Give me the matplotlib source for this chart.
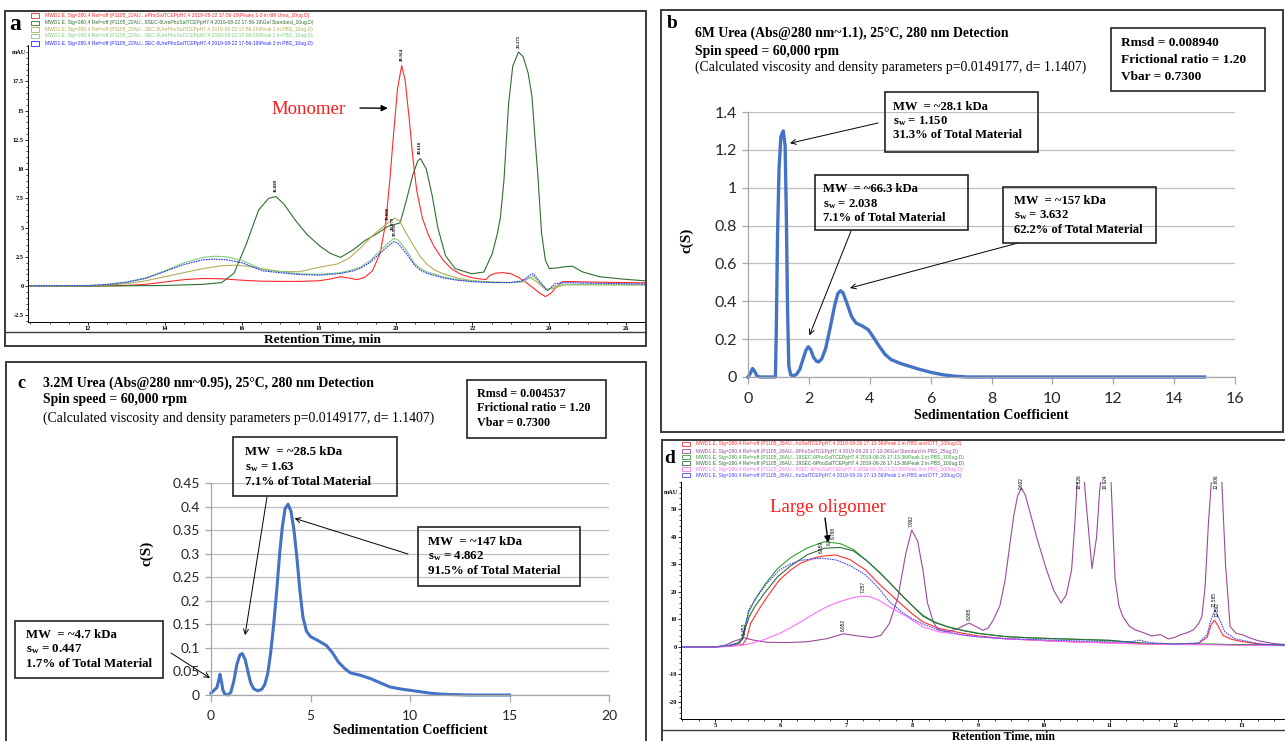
#!/usr/bin/env python3
# composite figure: two SEC chromatograms (a, d) and two c(S) distributions (b, c)

import matplotlib
matplotlib.use('Agg')
import matplotlib.pyplot as plt
from matplotlib.patches import Rectangle
from matplotlib.lines import Line2D
from matplotlib.ticker import MultipleLocator

plt.rcParams['mathtext.fontset'] = 'custom'
plt.rcParams['mathtext.rm'] = 'Liberation Serif:bold'
plt.rcParams['mathtext.it'] = 'Liberation Serif:italic:bold'

SERIF = 'Liberation Serif'
SANS = 'Liberation Sans'
XL = 'Lato'

# ---------------- data: panel a (retention time min, mAU) ----------------
a_red = [(10.44, 0.0), (12.0, 0.0), (13.0, 0.05), (13.5, 0.15), (14.0, 0.35), (14.5, 0.55),
         (15.0, 0.65), (15.5, 0.62), (16.0, 0.5), (16.5, 0.42), (17.0, 0.4), (17.5, 0.4),
         (18.0, 0.45), (18.3, 0.6), (18.57, 0.8), (18.8, 0.68), (19.0, 0.55), (19.2, 0.75),
         (19.4, 1.3), (19.6, 2.8), (19.75, 5.5), (19.85, 9.0), (19.95, 13.0), (20.05, 16.8),
         (20.16, 18.85), (20.25, 17.6), (20.35, 14.5), (20.45, 11.0), (20.55, 8.2), (20.7, 5.8),
         (20.85, 4.4), (21.0, 3.4), (21.24, 2.2), (21.45, 1.5), (21.7, 1.0), (22.0, 0.7),
         (22.35, 0.55), (22.45, 0.9), (22.6, 1.1), (22.8, 1.15), (23.0, 1.05), (23.2, 0.75),
         (23.4, 0.3), (23.6, -0.2), (23.75, -0.6), (23.9, -0.9), (24.05, -0.6), (24.2, 0.0),
         (24.35, 0.38), (24.6, 0.38), (25.0, 0.35), (25.5, 0.32), (26.0, 0.3), (26.5, 0.28)]
a_gel = [(10.44, 0.0), (12.0, 0.0), (14.0, 0.05), (15.0, 0.15), (15.48, 0.3), (15.8, 1.1),
         (16.12, 3.6), (16.44, 6.5), (16.7, 7.5), (16.89, 7.65), (17.1, 7.0), (17.4, 5.6),
         (17.7, 4.4), (18.04, 3.4), (18.3, 2.8), (18.57, 2.45), (18.9, 3.1), (19.21, 3.9),
         (19.53, 4.5), (19.8, 5.1), (20.12, 5.4), (20.28, 7.3), (20.45, 9.5), (20.58, 10.7),
         (20.65, 10.9), (20.8, 10.0), (20.95, 7.8), (21.1, 5.0), (21.3, 2.6), (21.55, 1.5),
         (21.98, 1.05), (22.3, 1.2), (22.52, 2.8), (22.65, 4.5), (22.73, 5.9), (22.82, 9.0),
         (22.94, 15.5), (23.05, 18.8), (23.2, 20.0), (23.32, 19.6), (23.45, 18.2), (23.55, 16.2),
         (23.62, 13.0), (23.7, 9.6), (23.8, 4.5), (23.9, 2.2), (24.0, 1.5), (24.2, 1.55),
         (24.4, 1.65), (24.6, 1.7), (24.86, 1.22), (25.3, 0.8), (26.0, 0.57), (26.5, 0.45)]
a_pk1 = [(10.44, 0.0), (12.0, 0.02), (12.5, 0.08), (13.0, 0.2), (13.5, 0.45), (14.0, 0.8),
         (14.5, 1.15), (15.0, 1.5), (15.5, 1.75), (15.8, 1.78), (16.1, 1.72), (16.5, 1.5),
         (17.0, 1.25), (17.5, 1.22), (18.0, 1.6), (18.5, 1.9), (18.8, 2.4), (19.1, 3.3),
         (19.4, 4.3), (19.65, 5.0), (19.85, 5.5), (19.98, 5.8), (20.1, 5.6), (20.28, 4.5),
         (20.49, 3.35), (20.65, 2.5), (20.81, 1.9), (21.0, 1.4), (21.24, 1.05), (21.6, 0.7),
         (22.0, 0.45), (22.5, 0.35), (23.0, 0.3), (23.3, 0.4), (23.5, 0.75), (23.7, 0.3),
         (23.9, -0.3), (24.1, -0.2), (24.4, 0.1), (25.0, 0.1), (26.0, 0.1), (26.5, 0.1)]
a_pk2 = [(10.44, 0.02), (12.0, 0.05), (12.5, 0.15), (13.0, 0.35), (13.5, 0.7), (14.0, 1.3),
         (14.5, 2.0), (15.0, 2.45), (15.3, 2.55), (15.6, 2.5), (16.0, 2.2), (16.55, 1.4),
         (17.19, 1.17), (17.5, 1.05), (18.04, 1.0), (18.57, 1.14), (18.9, 1.4), (19.1, 1.65),
         (19.35, 2.2), (19.53, 2.8), (19.8, 3.65), (19.96, 4.07), (20.08, 3.9), (20.28, 3.08),
         (20.49, 1.94), (20.65, 1.5), (20.81, 1.22), (21.24, 0.8), (21.6, 0.55), (21.98, 0.43),
         (22.5, 0.32), (23.0, 0.3), (23.3, 0.35), (23.5, 0.7), (23.58, 0.85), (23.75, 0.3),
         (23.95, -0.35), (24.15, 0.0), (24.4, 0.15), (25.0, 0.15), (26.0, 0.12), (26.5, 0.1)]
a_pk3 = [(10.44, 0.02), (12.0, 0.04), (12.5, 0.13), (13.0, 0.32), (13.5, 0.65), (14.0, 1.25),
         (14.5, 1.85), (15.0, 2.25), (15.3, 2.3), (15.6, 2.25), (16.0, 2.0), (16.55, 1.3),
         (17.19, 1.08), (17.5, 0.98), (18.04, 0.94), (18.57, 1.08), (18.9, 1.3), (19.1, 1.55),
         (19.35, 2.05), (19.53, 2.6), (19.8, 3.4), (19.96, 3.8), (20.08, 3.6), (20.28, 2.8),
         (20.49, 1.8), (20.65, 1.35), (20.81, 1.1), (21.24, 0.7), (21.6, 0.5), (21.98, 0.38),
         (22.5, 0.3), (23.0, 0.3), (23.3, 0.45), (23.5, 0.95), (23.58, 1.05), (23.75, 0.4),
         (23.95, -0.4), (24.15, 0.2), (24.4, 0.3), (25.0, 0.25), (26.0, 0.2), (26.5, 0.18)]
a_series = [a_red, a_gel, a_pk1, a_pk2, a_pk3]
a_colors = ['#ff2a2a', '#2f6e2f', '#b3ad5a', '#7fcf7f', '#2b2bff']
a_styles = ['-', '-', '-', '-', (0, (1.5, 0.8))]
a_legend = [
    r'MWD1 E, Sig=280,4 Ref=off (P1105_22AU...ePhoSalTCEPpH7.4 2019-08-22 17-56-19\Peaks 1-3 in 6M Urea_10ug.D)',
    r'MWD1 E, Sig=280,4 Ref=off (P1105_22AU...9SEC-6UrePhoSalTCEPpH7.4 2019-08-22 17-56-19\Gel Standard_10ug.D)',
    r'MWD1 E, Sig=280,4 Ref=off (P1105_22AU...SEC-6UrePhoSalTCEPpH7.4 2019-08-22 17-56-19\Peak 1 in PBS_10ug.D)',
    r'MWD1 E, Sig=280,4 Ref=off (P1105_22AU...SEC-6UrePhoSalTCEPpH7.4 2019-08-22 17-56-19\Peak 2 in PBS_10ug.D)',
    r'MWD1 E, Sig=280,4 Ref=off (P1105_22AU...SEC-6UrePhoSalTCEPpH7.4 2019-08-22 17-56-19\Peak 3 in PBS_10ug.D)',
]
a_peaks = [('16.889', 16.89, 7.65), ('19.808', 19.80, 5.3), ('19.979', 19.93, 4.4),
           ('19.931', 19.99, 3.9), ('20.164', 20.16, 18.85), ('20.618', 20.62, 10.9),
           ('23.175', 23.2, 20.0)]

# ---------------- data: panel b (sedimentation coefficient, c(S)) ----------------
b_cs = [(0.0, 0.0), (0.08, 0.02), (0.15, 0.045), (0.22, 0.03), (0.3, 0.004), (0.4, 0.0),
        (0.9, 0.0), (0.93, 0.25), (0.97, 0.75), (1.02, 1.1), (1.08, 1.27), (1.16, 1.30),
        (1.22, 1.22), (1.26, 0.85), (1.3, 0.35), (1.34, 0.06), (1.4, 0.012), (1.5, 0.006),
        (1.6, 0.015), (1.7, 0.04), (1.8, 0.09), (1.9, 0.14), (1.98, 0.16), (2.06, 0.145),
        (2.15, 0.105), (2.25, 0.083), (2.32, 0.08), (2.42, 0.095), (2.55, 0.15), (2.7, 0.26),
        (2.85, 0.38), (2.95, 0.44), (3.04, 0.456), (3.12, 0.445), (3.25, 0.39), (3.4, 0.32),
        (3.55, 0.285), (3.75, 0.27), (3.95, 0.25), (4.1, 0.215), (4.3, 0.165), (4.5, 0.12),
        (4.7, 0.092), (5.0, 0.072), (5.3, 0.057), (5.6, 0.042), (6.0, 0.025), (6.4, 0.012),
        (6.8, 0.004), (7.2, 0.0), (8.0, 0.0), (15.0, 0.0)]
b_yticks = [0, 0.2, 0.4, 0.6, 0.8, 1.0, 1.2, 1.4]
b_ylabels = ['0', '0.2', '0.4', '0.6', '0.8', '1', '1.2', '1.4']
b_xticks = [0, 2, 4, 6, 8, 10, 12, 14, 16]

# ---------------- data: panel c ----------------
c_cs = [(0.0, 0.004), (0.15, 0.01), (0.3, 0.016), (0.38, 0.03), (0.45, 0.044), (0.52, 0.03),
        (0.6, 0.01), (0.7, 0.002), (0.85, 0.0), (1.0, 0.006), (1.15, 0.03), (1.3, 0.065),
        (1.45, 0.085), (1.57, 0.088), (1.72, 0.075), (1.88, 0.045), (2.0, 0.025), (2.15, 0.013),
        (2.35, 0.009), (2.55, 0.012), (2.7, 0.022), (2.85, 0.045), (3.0, 0.09), (3.15, 0.15),
        (3.3, 0.22), (3.45, 0.3), (3.58, 0.355), (3.72, 0.395), (3.87, 0.405), (4.02, 0.39),
        (4.17, 0.35), (4.32, 0.29), (4.47, 0.22), (4.62, 0.165), (4.8, 0.135), (5.0, 0.124),
        (5.4, 0.115), (5.8, 0.105), (6.1, 0.09), (6.4, 0.07), (6.7, 0.057), (7.0, 0.047),
        (7.5, 0.042), (8.0, 0.035), (8.5, 0.026), (9.0, 0.017), (9.5, 0.013), (10.0, 0.01),
        (10.5, 0.007), (11.0, 0.004), (11.5, 0.002), (12.0, 0.001), (13.0, 0.0), (15.0, 0.0)]
c_yticks = [0, 0.05, 0.1, 0.15, 0.2, 0.25, 0.3, 0.35, 0.4, 0.45]
c_ylabels = ['0', '0.05', '0.1', '0.15', '0.2', '0.25', '0.3', '0.35', '0.4', '0.45']
c_xticks = [0, 5, 10, 15, 20]

# ---------------- data: panel d (retention time min, mAU) ----------------
d_red = [(4.48, 0.0), (5.0, 0.0), (5.25, 0.3), (5.42, 0.9), (5.48, 3.0), (5.54, 8.5),
         (5.66, 13.4), (5.8, 18.5), (5.98, 24.4), (6.15, 28.0), (6.3, 30.5), (6.5, 32.3),
         (6.62, 33.0), (6.83, 33.5), (7.05, 31.8), (7.29, 28.0), (7.49, 23.0), (7.65, 19.5),
         (7.85, 15.2), (8.0, 12.0), (8.16, 9.1), (8.4, 6.8), (8.78, 4.9), (9.0, 4.0),
         (9.41, 3.0), (10.0, 2.3), (10.5, 1.8), (11.0, 1.5), (11.5, 1.1), (12.0, 1.0),
         (12.35, 1.3), (12.48, 3.5), (12.54, 8.0), (12.59, 9.8), (12.65, 7.5), (12.72, 4.2),
         (12.85, 2.8), (13.0, 2.0), (13.3, 1.0), (13.66, 0.5)]
d_gel = [(4.48, 0.0), (5.0, 0.0), (5.15, 0.6), (5.3, 2.2), (5.45, 3.3), (5.6, 2.4),
         (5.8, 1.7), (6.1, 1.6), (6.4, 1.9), (6.7, 3.0), (6.95, 4.8), (7.15, 4.1),
         (7.38, 3.4), (7.52, 4.2), (7.65, 8.5), (7.78, 18.0), (7.9, 34.0), (7.99, 42.5),
         (8.08, 38.5), (8.16, 28.0), (8.23, 16.0), (8.32, 9.0), (8.39, 6.3), (8.54, 5.5),
         (8.7, 6.8), (8.86, 8.7), (9.0, 7.0), (9.07, 6.1), (9.15, 6.8), (9.23, 9.8),
         (9.33, 15.0), (9.41, 24.4), (9.48, 37.0), (9.54, 47.6), (9.6, 55.0), (9.66, 57.8),
         (9.72, 55.0), (9.79, 48.8), (9.9, 39.0), (10.04, 28.0), (10.15, 20.5), (10.26, 16.0),
         (10.34, 19.0), (10.42, 28.0), (10.47, 45.0), (10.5, 58.0), (10.53, 66.0), (10.6, 64.0),
         (10.65, 50.0), (10.73, 28.5), (10.8, 40.0), (10.85, 58.0), (10.9, 66.0), (10.95, 66.0),
         (11.02, 60.0), (11.08, 25.0), (11.14, 15.0), (11.2, 11.0), (11.3, 7.5), (11.39, 6.2),
         (11.5, 5.3), (11.64, 4.0), (11.77, 4.5), (11.89, 2.9), (12.0, 3.6), (12.08, 4.5),
         (12.18, 5.2), (12.27, 6.2), (12.35, 8.5), (12.4, 11.0), (12.45, 22.0), (12.5, 45.0),
         (12.55, 62.0), (12.6, 66.0), (12.65, 66.0), (12.7, 62.0), (12.76, 30.0), (12.83, 7.4),
         (12.92, 5.0), (13.02, 4.4), (13.14, 3.2), (13.25, 2.3), (13.33, 1.9), (13.5, 1.2),
         (13.66, 0.9)]
d_pk1 = [(4.48, 0.0), (5.0, 0.0), (5.2, 0.5), (5.35, 1.5), (5.42, 3.5), (5.47, 9.0),
         (5.52, 13.0), (5.6, 17.0), (5.75, 22.5), (5.95, 28.5), (6.15, 32.5), (6.4, 36.0),
         (6.66, 38.3), (6.9, 37.6), (7.1, 35.5), (7.3, 31.5), (7.5, 27.0), (7.65, 23.5),
         (7.85, 18.5), (8.0, 15.0), (8.16, 11.5), (8.35, 9.0), (8.55, 7.3), (8.78, 6.0),
         (9.0, 5.0), (9.4, 3.8), (9.8, 3.3), (10.2, 3.0), (10.6, 2.7), (11.0, 2.4),
         (11.3, 1.8), (11.6, 1.3), (12.0, 1.0), (12.5, 1.0), (13.0, 0.8), (13.66, 0.7)]
d_pk2 = [(4.48, 0.0), (5.0, 0.0), (5.2, 0.4), (5.35, 1.2), (5.42, 2.8), (5.47, 7.5),
         (5.52, 11.0), (5.6, 14.5), (5.75, 19.5), (5.95, 25.5), (6.15, 29.5), (6.4, 33.5),
         (6.66, 35.9), (6.9, 36.2), (7.1, 35.0), (7.3, 31.5), (7.5, 27.2), (7.65, 23.5),
         (7.85, 18.5), (8.0, 15.0), (8.16, 11.2), (8.35, 8.8), (8.55, 7.2), (8.78, 5.9),
         (9.0, 4.9), (9.4, 3.8), (9.8, 3.3), (10.2, 3.0), (10.6, 2.7), (11.0, 2.4),
         (11.3, 1.7), (11.6, 1.2), (12.0, 1.0), (12.5, 1.0), (13.0, 0.8), (13.66, 0.7)]
d_pk3 = [(4.48, 0.0), (5.0, 0.0), (5.2, 0.2), (5.4, 0.6), (5.54, 1.2), (5.75, 2.7),
         (5.98, 4.9), (6.15, 7.0), (6.3, 9.1), (6.45, 11.3), (6.6, 13.4), (6.75, 15.2),
         (6.92, 16.7), (7.08, 17.8), (7.23, 18.5), (7.35, 18.3), (7.49, 17.0), (7.65, 14.6),
         (7.92, 11.0), (8.16, 7.3), (8.4, 5.5), (8.78, 4.3), (9.0, 3.7), (9.41, 3.0),
         (10.0, 2.3), (10.5, 1.8), (11.0, 1.4), (11.5, 1.1), (12.0, 0.9), (12.5, 0.8),
         (13.0, 0.6), (13.66, 0.5)]
d_pk1dtt = [(4.48, 0.0), (5.0, 0.0), (5.2, 0.5), (5.38, 1.5), (5.45, 6.0), (5.51, 13.4),
            (5.66, 19.0), (5.8, 23.5), (5.98, 28.0), (6.15, 30.2), (6.3, 31.5), (6.5, 32.1),
            (6.63, 32.3), (6.85, 31.6), (7.05, 29.6), (7.29, 26.2), (7.49, 21.3), (7.65, 16.5),
            (7.85, 12.5), (8.0, 10.2), (8.16, 8.3), (8.4, 6.2), (8.78, 4.3), (9.0, 3.7),
            (9.41, 3.0), (10.0, 2.6), (10.5, 2.2), (11.0, 1.9), (11.3, 1.8), (11.45, 2.5),
            (11.6, 1.6), (12.0, 1.0), (12.35, 1.5), (12.48, 4.5), (12.54, 10.0), (12.6, 13.5),
            (12.66, 10.5), (12.75, 5.5), (12.9, 3.0), (13.1, 2.0), (13.3, 1.0), (13.66, 0.5)]
d_series = [d_red, d_gel, d_pk1, d_pk2, d_pk3, d_pk1dtt]
d_colors = ['#ff3030', '#9b4a9b', '#33a033', '#2f6e3a', '#ff70ff', '#4646ff']
d_styles = ['-', '-', '-', '-', '-', (0, (1.5, 0.8))]
d_legend = [
    r'MWD1 E, Sig=280,4 Ref=off (P1105_26AU...hoSalTCEPpH7.4 2019-08-26 17-13-36\Peak 2 in PBS and DTT_100ug.D)',
    r'MWD1 E, Sig=280,4 Ref=off (P1105_26AU...6PhoSalTCEPpH7.4 2019-08-26 17-13-36\Gel Standard in PBS_25ug.D)',
    r'MWD1 E, Sig=280,4 Ref=off (P1105_26AU...19SEC-6PhoSalTCEPpH7.4 2019-08-26 17-13-36\Peak 1 in PBS_100ug.D)',
    r'MWD1 E, Sig=280,4 Ref=off (P1105_26AU...19SEC-6PhoSalTCEPpH7.4 2019-08-26 17-13-36\Peak 2 in PBS_100ug.D)',
    r'MWD1 E, Sig=280,4 Ref=off (P1105_26AU...9SEC-6PhoSalTCEPpH7.4 2019-08-26 17-13-36\Peak 3 in PBS_50(5ug.D)',
    r'MWD1 E, Sig=280,4 Ref=off (P1105_26AU...hoSalTCEPpH7.4 2019-08-26 17-13-36\Peak 1 in PBS and DTT_100ug.D)',
]
d_peaks = [('5.453', 5.45, 3.3), ('6.952', 6.95, 4.8), ('6.659', 6.62, 33.0), ('6.784', 6.74, 36.2),
           ('6.788', 6.8, 38.3), ('7.257', 7.25, 18.5), ('7.992', 7.99, 42.5), ('8.885', 8.86, 8.7),
           ('9.602', 9.66, 57.8), ('10.526', 10.53, 57.8), ('10.924', 10.93, 57.8),
           ('12.606', 12.62, 57.8), ('12.585', 12.59, 13.5), ('12.592', 12.63, 9.8)]

# ---------------- layout helpers (pixel coordinates, origin top-left) ----------------
W, H = 1285, 741
fig = plt.figure(figsize=(W / 100, H / 100), dpi=100)


def add_ax(x0, y0, x1, y1):
    return fig.add_axes([x0 / W, 1 - y1 / H, (x1 - x0) / W, (y1 - y0) / H])


def frame(x0, y0, x1, y1, lw=1.4, ec='#3a3a3a'):
    fig.add_artist(Rectangle((x0 / W, 1 - y1 / H), (x1 - x0) / W, (y1 - y0) / H,
                             transform=fig.transFigure, fill=False, ec=ec, lw=lw))


def hline(x0, x1, y, lw=1.0, color='#3a3a3a'):
    fig.add_artist(Line2D([x0 / W, x1 / W], [1 - y / H, 1 - y / H],
                          transform=fig.transFigure, color=color, lw=lw))


def ftext(x, y, s, **kw):
    kw.setdefault('va', 'center')
    return fig.text(x / W, 1 - y / H, s, **kw)


def fpos(x, y):
    return (x / W, 1 - y / H)


def arrow(ax, xy, start, style='->', lw=0.7):
    ax.annotate('', xy=xy, xycoords='data', xytext=fpos(*start), textcoords='figure fraction',
                annotation_clip=False,
                arrowprops=dict(arrowstyle=style, color='black', lw=lw, shrinkA=0, shrinkB=0,
                                mutation_scale=9))


def info_box(x0, y0, x1, y1, lines, tx, ys, size):
    frame(x0, y0, x1, y1, lw=1.2, ec='#222222')
    for s, y in zip(lines, ys):
        ftext(tx, y, s, family=SERIF, weight='bold', size=size)


def chrom_axes(ax, xlim, ylim, xmaj, xmin, ymaj, ymin, ylabels):
    ax.set_xlim(*xlim)
    ax.set_ylim(*ylim)
    for s in ['top', 'right']:
        ax.spines[s].set_visible(False)
    for s in ['left', 'bottom']:
        ax.spines[s].set_linewidth(0.7)
    ax.xaxis.set_major_locator(MultipleLocator(xmaj))
    ax.xaxis.set_minor_locator(MultipleLocator(xmin))
    ax.set_yticks(ymaj)
    ax.set_yticklabels(ylabels)
    ax.yaxis.set_minor_locator(MultipleLocator(ymin))
    ax.tick_params(which='major', length=2.2, width=0.6, pad=0.8, labelsize=4.5)
    ax.tick_params(which='minor', length=1.2, width=0.5)
    for lab in ax.get_xticklabels() + ax.get_yticklabels():
        lab.set_family(SERIF)
        lab.set_weight('bold')
    ax.patch.set_alpha(0)


def legend_rows(x_mark, x_text, ys, texts, colors):
    for y, s, c in zip(ys, texts, colors):
        frame(x_mark, y - 2.2, x_mark + 8, y + 2.2, lw=0.6, ec=c)
        ftext(x_text, y, s, family=SANS, size=3.6, color=c)


def excel_axes(ax, xlim, ylim, xticks, yticks, ylabels, size):
    ax.set_xlim(*xlim)
    ax.set_ylim(*ylim)
    ax.set_xticks(xticks)
    ax.set_yticks(yticks)
    ax.set_yticklabels(ylabels)
    ax.grid(axis='y', color='#bfbfbf', lw=0.9)
    ax.set_axisbelow(True)
    for s in ['top', 'right']:
        ax.spines[s].set_visible(False)
    for s in ['left', 'bottom']:
        ax.spines[s].set_color('#a6a6a6')
        ax.spines[s].set_linewidth(0.9)
    ax.tick_params(axis='x', length=5, width=0.9, color='#a6a6a6', pad=6, labelsize=size)
    ax.tick_params(axis='y', length=4, width=0.9, color='#a6a6a6', pad=4, labelsize=size)
    for lab in ax.get_xticklabels() + ax.get_yticklabels():
        lab.set_family(XL)
        lab.set_color('#262626')
    ax.patch.set_alpha(0)


# ---------------- panel frames ----------------
frame(5, 11, 646, 346)
frame(661, 10, 1283, 432)
frame(6, 362, 646, 760)
frame(662, 440, 1300, 760)
hline(5, 646, 332)
hline(662, 1285, 730)

# ---------------- panel a ----------------
ax_a = add_ax(28, 45, 645, 322)
for pts, c, ls in zip(a_series, a_colors, a_styles):
    ax_a.plot([p[0] for p in pts], [p[1] for p in pts], color=c, lw=0.8, ls=ls)
chrom_axes(ax_a, (10.44, 26.49), (-3.07, 20.6), 2, 0.5,
           [-2.5, 0, 2.5, 5, 7.5, 10, 12.5, 15, 17.5], 0.5,
           ['-2.5', '0', '2.5', '5', '7.5', '10', '12.5', '15', '17.5'])
for s, x, y in a_peaks:
    ax_a.text(x, y + 0.35, s, rotation=90, ha='center', va='bottom', family=SERIF,
              weight='bold', size=3.4, clip_on=False)
ftext(26, 52, 'mAU', family=SERIF, weight='bold', size=4.5, ha='right')
ftext(322, 339, 'Retention Time, min', family=SERIF, weight='bold', size=9.5, ha='center')
ftext(15, 25, 'a', family=SERIF, weight='bold', size=17, ha='center')
legend_rows(31, 45, [15.3, 22.7, 29.3, 36.0, 43.3], a_legend, a_colors)
ftext(309, 109, 'Monomer', family=SERIF, size=13.5, color='#ff1a1a', ha='center')
arrow(ax_a, (19.8, 15.2), (360, 108), style='-|>', lw=1.0)

# ---------------- panel b ----------------
ax_b = add_ax(748, 112, 1235, 377)
ax_b.plot([p[0] for p in b_cs], [p[1] for p in b_cs], color='#4472c4', lw=2.4,
          clip_on=False, solid_joinstyle='round')
excel_axes(ax_b, (0, 16), (0, 1.4), b_xticks, b_yticks, b_ylabels, 11.5)
ax_b.set_xlabel('Sedimentation Coefficient', family=SERIF, weight='bold', size=10, labelpad=2)
ax_b.set_ylabel('c(S)', family=SERIF, weight='bold', size=11)
ax_b.yaxis.set_label_coords((694 - 748) / 487, (377 - 240) / 265)
ftext(672, 23, 'b', family=SERIF, weight='bold', size=14, ha='center')
ftext(695, 33, '6M Urea (Abs@280 nm~1.1), 25°C, 280 nm Detection', family=SERIF,
      weight='bold', size=9.9)
ftext(695, 51, 'Spin speed = 60,000 rpm', family=SERIF, weight='bold', size=9.9)
ftext(695, 67, '(Calculated viscosity and density parameters p=0.0149177, d= 1.1407)',
      family=SERIF, size=9.9)
info_box(1111, 28, 1265, 91, ['Rmsd = 0.008940', 'Frictional ratio = 1.20', 'Vbar = 0.7300'],
         1121, [43, 60, 77], 9.6)
info_box(885, 92, 1038, 152, ['MW  = ~28.1 kDa', r's$_\mathrm{w}$ = 1.150', '31.3% of Total Material'],
         893, [107, 121, 135], 9.1)
info_box(815, 175, 968, 230, ['MW  = ~66.3 kDa', r's$_\mathrm{w}$ = 2.038', '7.1% of Total Material'],
         823, [189, 204, 218], 9.1)
info_box(1003, 187, 1156, 243, ['MW  = ~157 kDa', r's$_\mathrm{w}$ = 3.632', '62.2% of Total Material'],
         1014, [201, 215, 230], 9.1)
arrow(ax_b, (1.38, 1.235), (878, 123))
arrow(ax_b, (2.02, 0.22), (851, 231))
arrow(ax_b, (3.35, 0.47), (1018, 243))

# ---------------- panel c ----------------
ax_c = add_ax(211, 483, 609, 695)
ax_c.plot([p[0] for p in c_cs], [p[1] for p in c_cs], color='#4472c4', lw=2.2,
          clip_on=False, solid_joinstyle='round')
excel_axes(ax_c, (0, 20), (0, 0.45), c_xticks, c_yticks, c_ylabels, 10)
ax_c.set_xlabel('Sedimentation Coefficient', family=SERIF, weight='bold', size=10, labelpad=1)
ax_c.set_ylabel('c(S)', family=SERIF, weight='bold', size=11)
ax_c.yaxis.set_label_coords((153 - 211) / 398, (695 - 553) / 212)
ftext(21, 383, 'c', family=SERIF, weight='bold', size=13, ha='center')
ftext(43, 383, '3.2M Urea (Abs@280 nm~0.95), 25°C, 280 nm Detection', family=SERIF,
      weight='bold', size=9.9)
ftext(43, 400, 'Spin speed = 60,000 rpm', family=SERIF, weight='bold', size=9.9)
ftext(43, 418, '(Calculated viscosity and density parameters p=0.0149177, d= 1.1407)',
      family=SERIF, size=9.9)
info_box(467, 380, 606, 438, ['Rmsd = 0.004537', 'Frictional ratio = 1.20', 'Vbar = 0.7300'],
         477, [394, 408, 423], 8.7)
info_box(233, 437, 397, 496, ['MW  = ~28.5 kDa', r's$_\mathrm{w}$ = 1.63', '7.1% of Total Material'],
         245, [452, 467, 482], 9.3)
info_box(418, 527, 580, 586, ['MW  = ~147 kDa', r's$_\mathrm{w}$ = 4.862', '91.5% of Total Material'],
         428, [542, 556, 571], 9.3)
info_box(15, 621, 163, 678, ['MW  = ~4.7 kDa', r's$_\mathrm{w}$ = 0.447', '1.7% of Total Material'],
         26, [635, 649, 664], 9.3)
arrow(ax_c, (1.71, 0.127), (267, 497))
arrow(ax_c, (4.2, 0.375), (408, 554))
arrow(ax_c, (-0.05, 0.036), (171, 653))

# ---------------- panel d ----------------
ax_d = add_ax(681, 482, 1290, 719)
for pts, c, ls in zip(d_series, d_colors, d_styles):
    ax_d.plot([p[0] for p in pts], [p[1] for p in pts], color=c, lw=0.8, ls=ls)
chrom_axes(ax_d, (4.483, 13.74), (-26.2, 60), 1, 0.25,
           [-20, -10, 0, 10, 20, 30, 40, 50], 2,
           ['-20', '-10', '0', '10', '20', '30', '40', '50'])
for s, x, y in d_peaks:
    ax_d.text(x, min(y, 56.5) + 1.0, s, rotation=90, ha='center', va='bottom', family=SANS,
              size=3.4, clip_on=False)
ftext(678, 492, 'mAU', family=SERIF, weight='bold', size=4.5, ha='right')
ftext(1004, 739.5, 'Retention Time, min', family=SERIF, weight='bold', size=8.5, ha='center',
      va='baseline')
ftext(670, 459, 'd', family=SERIF, weight='bold', size=14, ha='center')
legend_rows(682, 696, [444, 451, 457, 463, 469, 475], d_legend, d_colors)
ftext(828, 508, 'Large oligomer', family=SERIF, size=13.5, color='#ff1a1a', ha='center')
arrow(ax_d, (6.72, 38.0), (825, 518), style='-|>', lw=1.0)

fig.savefig('out.png', dpi=100)
